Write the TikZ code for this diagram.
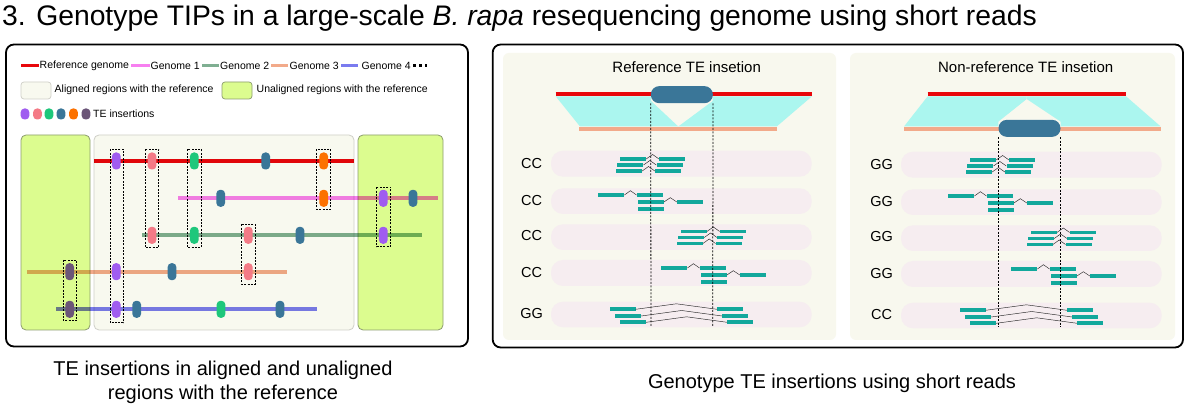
\documentclass[tikz,border=0pt]{standalone}
\usepackage{fontspec}
\setmainfont{Liberation Sans}
\usetikzlibrary{calc}
\definecolor{refred}{HTML}{E8070B}
\definecolor{gonepink}{HTML}{F77FF0}
\definecolor{gtwogreen}{HTML}{7FAF92}
\definecolor{gthreeorange}{HTML}{F2AA8A}
\definecolor{gfourblue}{HTML}{7A7BEF}
\definecolor{unal}{HTML}{DCFC8F}
\definecolor{unalb}{HTML}{8C9C6E}
\definecolor{alig}{HTML}{F8F9EF}
\definecolor{aligb}{HTML}{CFCFC8}
\definecolor{tepurple}{HTML}{A05CF0}
\definecolor{tepink}{HTML}{F47A86}
\definecolor{tegreen}{HTML}{1EC77B}
\definecolor{teblue}{HTML}{3A7698}
\definecolor{teorange}{HTML}{FC7100}
\definecolor{tedark}{HTML}{6B5578}
\definecolor{cyanfill}{HTML}{ABF6EF}
\definecolor{readc}{HTML}{12A89C}
\definecolor{bandc}{HTML}{F6EDF0}
\definecolor{innerc}{HTML}{F8F8EE}
\tikzset{
  panel/.style={draw=black, line width=1.8pt, rounded corners=8pt},
  gline/.style={line width=4.3pt, blend mode=multiply},
  legline/.style={line width=3.5pt},
  temark/.style={rectangle, rounded corners=3.8pt, minimum width=8.7pt, minimum height=17pt, inner sep=0pt},
  tedot/.style={rectangle, rounded corners=3.8pt, minimum width=8.7pt, minimum height=11pt, inner sep=0pt},
  dbox/.style={dash pattern=on 2pt off 1.3pt, line width=0.75pt},
  dv/.style={dash pattern=on 2pt off 1.5pt, line width=0.8pt},
  legtxt/.style={anchor=west, inner sep=0.5pt, font=\fontsize{10.5}{12}\selectfont},
  readbar/.style={rectangle, fill=readc, minimum width=26pt, minimum height=3.8pt, inner sep=0pt},
  conn/.style={draw=black!85, line width=0.45pt},
  rowlab/.style={font=\fontsize{14.5}{16}\selectfont, inner sep=0pt},
  bandbox/.style={fill=bandc, rounded corners=12pt},
  tebox/.style={rectangle, fill=teblue, rounded corners=8.3pt, minimum width=62pt, minimum height=17pt, inner sep=0pt},
  ptitle/.style={font=\fontsize{15}{17}\selectfont, inner sep=0pt},
  capt/.style={font=\fontsize{20}{24}\selectfont, align=center, inner sep=0pt},
}
\newcommand\readpanel[6]{%
  \fill[bandbox] (551,150.7) rectangle (811.7,176.7);
  \fill[bandbox] (551,188.3) rectangle (811.7,214);
  \fill[bandbox] (551,224.3) rectangle (811.7,250);
  \fill[bandbox] (551,260) rectangle (811.7,286);
  \fill[bandbox] (551,301.7) rectangle (811.7,327.3);
  \node[rowlab] (#1l1) at (531.7,164) {#2};
  \node[rowlab] (#1l2) at (531.7,200.5) {#3};
  \node[rowlab] (#1l3) at (531.7,236) {#4};
  \node[rowlab] (#1l4) at (531.7,272.5) {#5};
  \node[rowlab] (#1l5) at (531.7,313.5) {#6};
  % row 1
  \node[readbar] (#1pa1) at (633,159) {};
  \node[readbar] (#1pa2) at (630.3,165) {};
  \node[readbar] (#1pa3) at (629,171) {};
  \node[readbar] (#1pb1) at (672.2,159) {};
  \node[readbar] (#1pb2) at (669.5,165) {};
  \node[readbar] (#1pb3) at (668,171) {};
  \draw[conn] (#1pa1.east) -- ($(#1pa1.east)!.5!(#1pb1.west)+(0,-4.5)$) -- (#1pb1.west);
  \draw[conn] (#1pa2.east) -- ($(#1pa2.east)!.5!(#1pb2.west)+(0,-4.5)$) -- (#1pb2.west);
  \draw[conn] (#1pa3.east) -- ($(#1pa3.east)!.5!(#1pb3.west)+(0,-4.5)$) -- (#1pb3.west);
  % row 2
  \node[readbar] (#1qa) at (611.2,195) {};
  \node[readbar] (#1qb) at (649.7,195) {};
  \node[readbar] (#1qc) at (650.7,202) {};
  \node[readbar] (#1qd) at (690,202) {};
  \node[readbar] (#1qe) at (650.7,209) {};
  \draw[conn] (#1qa.east) -- ($(#1qa.east)!.5!(#1qb.west)+(0,-4.3)$) -- (#1qb.west);
  \draw[conn] (#1qc.east) -- ($(#1qc.east)!.5!(#1qd.west)+(0,-4.3)$) -- (#1qd.west);
  % row 3
  \node[readbar] (#1ra1) at (693.7,231.5) {};
  \node[readbar] (#1ra2) at (691,237.5) {};
  \node[readbar] (#1ra3) at (689.7,243.5) {};
  \node[readbar] (#1rb1) at (732.9,231.5) {};
  \node[readbar] (#1rb2) at (730.2,237.5) {};
  \node[readbar] (#1rb3) at (728.7,243.5) {};
  \draw[conn] (#1ra1.east) -- ($(#1ra1.east)!.5!(#1rb1.west)+(0,-4.5)$) -- (#1rb1.west);
  \draw[conn] (#1ra2.east) -- ($(#1ra2.east)!.5!(#1rb2.west)+(0,-4.5)$) -- (#1rb2.west);
  \draw[conn] (#1ra3.east) -- ($(#1ra3.east)!.5!(#1rb3.west)+(0,-4.5)$) -- (#1rb3.west);
  % row 4
  \node[readbar] (#1sa) at (674.2,268) {};
  \node[readbar] (#1sb) at (712.7,268) {};
  \node[readbar] (#1sc) at (713.7,275) {};
  \node[readbar] (#1sd) at (753,275) {};
  \node[readbar] (#1se) at (713.7,282) {};
  \draw[conn] (#1sa.east) -- ($(#1sa.east)!.5!(#1sb.west)+(0,-4.3)$) -- (#1sb.west);
  \draw[conn] (#1sc.east) -- ($(#1sc.east)!.5!(#1sd.west)+(0,-4.3)$) -- (#1sd.west);
  % row 5
  \node[readbar] (#1ta1) at (622.5,309.3) {};
  \node[readbar] (#1ta2) at (628,316) {};
  \node[readbar] (#1ta3) at (633,322.3) {};
  \node[readbar] (#1tb1) at (730.3,309.3) {};
  \node[readbar] (#1tb2) at (735.3,316) {};
  \node[readbar] (#1tb3) at (740.3,322.3) {};
  \draw[conn] (#1ta1.east) -- ($(#1ta1.east)!.5!(#1tb1.west)+(0,-5.5)$) -- (#1tb1.west);
  \draw[conn] (#1ta2.east) -- ($(#1ta2.east)!.5!(#1tb2.west)+(0,-5.5)$) -- (#1tb2.west);
  \draw[conn] (#1ta3.east) -- ($(#1ta3.east)!.5!(#1tb3.west)+(0,-5.5)$) -- (#1tb3.west);
}
\begin{document}
\begin{tikzpicture}[x=1pt,y=-1pt]
\useasboundingbox (0,0) rectangle (1187,411);
\fill[white] (0,0) rectangle (1187,411);

% title
\node[anchor=west, inner sep=0pt, font=\fontsize{28.3}{32}\selectfont] (title) at (2,18)
  {3. Genotype TIPs in a large-scale \textit{B. rapa} resequencing genome using short reads};

% ================= LEFT PANEL =================
\draw[panel] (6,44.5) rectangle (468,346.5);

% legend row 1
\draw[legline, refred] (21,65.7) -- (39,65.7);
\node[legtxt] (lg1) at (39,65.7) {Reference genome};
\draw[legline, gonepink] (131,65.7) -- (150,65.7);
\node[legtxt] (lg2) at (150,65.7) {Genome 1};
\draw[legline, gtwogreen] (202,65.7) -- (219,65.7);
\node[legtxt] (lg3) at (219.5,65.7) {Genome 2};
\draw[legline, gthreeorange] (271,65.7) -- (288,65.7);
\node[legtxt] (lg4) at (289,65.7) {Genome 3};
\draw[legline, gfourblue] (341,65.7) -- (358,65.7);
\node[legtxt] (lg5) at (361,65.7) {Genome 4};
\foreach \xx in {414.5,420.2,425.9} \fill[black] (\xx-1.4,64.3) rectangle (\xx+1.4,67.1);

% legend row 2
\filldraw[fill=alig, draw=aligb, rounded corners=3pt, line width=0.7pt] (21,82) rectangle (51,99);
\node[legtxt] (lg6) at (54,90) {Aligned regions with the reference};
\filldraw[fill=unal, draw=unalb, rounded corners=3pt, line width=0.7pt] (222,82) rectangle (252,99);
\node[legtxt] (lg7) at (256,90) {Unaligned regions with the reference};

% legend row 3
\node[tedot, fill=tepurple] (d1) at (25,114) {};
\node[tedot, fill=tepink] (d2) at (37.5,114) {};
\node[tedot, fill=tegreen] (d3) at (49,114) {};
\node[tedot, fill=teblue] (d4) at (61,114) {};
\node[tedot, fill=teorange] (d5) at (73.5,114) {};
\node[tedot, fill=tedark] (d6) at (86,114) {};
\node[legtxt] (lg8) at (92.5,114) {TE insertions};

% region boxes
\filldraw[fill=unal, draw=unalb, rounded corners=5pt, line width=0.8pt] (21,135) rectangle (90,330);
\filldraw[fill=alig, draw=aligb, rounded corners=5pt, line width=0.8pt] (94,135) rectangle (354,330);
\filldraw[fill=unal, draw=unalb, rounded corners=5pt, line width=0.8pt] (358,135) rectangle (443,330);

% genome lines
\draw[gline, refred] (94,161) -- (354,161);
\draw[gline, gonepink] (178,198.3) -- (438,198.3);
\draw[gline, gtwogreen] (142,235.3) -- (422,235.3);
\draw[gline, gthreeorange] (27,271.7) -- (287,271.7);
\draw[gline, gfourblue] (56,309.3) -- (317,309.3);

% TE marks
\node[temark, fill=tepurple] (r1a) at (116.3,161) {};
\node[temark, fill=tepink] (r1b) at (152,161) {};
\node[temark, fill=tegreen] (r1c) at (194.3,161) {};
\node[temark, fill=teblue] (r1d) at (265.7,161) {};
\node[temark, fill=teorange] (r1e) at (323.7,161) {};
\node[temark, fill=teblue] (r2a) at (220.7,198.3) {};
\node[temark, fill=teorange] (r2b) at (323.7,198.3) {};
\node[temark, fill=tepurple] (r2c) at (383.3,198.3) {};
\node[temark, fill=teblue] (r2d) at (413,198.3) {};
\node[temark, fill=tepink] (r3a) at (152,235.3) {};
\node[temark, fill=tegreen] (r3b) at (194.3,235.3) {};
\node[temark, fill=tepink] (r3c) at (248.3,235.3) {};
\node[temark, fill=teblue] (r3d) at (300,235.3) {};
\node[temark, fill=tepurple] (r3e) at (383.3,235.3) {};
\node[temark, fill=tedark] (r4a) at (69.7,271.7) {};
\node[temark, fill=tepurple] (r4b) at (116.3,271.7) {};
\node[temark, fill=teblue] (r4c) at (172,271.7) {};
\node[temark, fill=tepink] (r4d) at (248.3,271.7) {};
\node[temark, fill=tedark] (r5a) at (69.7,309.3) {};
\node[temark, fill=tepurple] (r5b) at (116.3,309.3) {};
\node[temark, fill=teblue] (r5c) at (136.7,309.3) {};
\node[temark, fill=tegreen] (r5d) at (221,309.3) {};
\node[temark, fill=teblue] (r5e) at (280,309.3) {};

% dashed groups
\draw[dbox] (110,149.3) rectangle (123.3,322.7);
\draw[dbox] (145,149.3) rectangle (158.7,247.3);
\draw[dbox] (187.3,149.3) rectangle (201.3,247.3);
\draw[dbox] (316.7,149.3) rectangle (330.7,209.3);
\draw[dbox] (376.7,187.3) rectangle (390.7,246.7);
\draw[dbox] (241.3,224.3) rectangle (255.3,284);
\draw[dbox] (63.3,260) rectangle (76.7,320.7);

% captions
\node[capt] (cap1) at (223,382) {TE insertions in aligned and unaligned\\regions with the reference};
\node[capt] (cap2) at (832,383) {Genotype TE insertions using short reads};

% ================= RIGHT PANEL =================
\draw[panel] (492.7,44.5) rectangle (1183,347.5);
\fill[innerc, rounded corners=6pt] (503,53) rectangle (836,340);
\fill[innerc, rounded corners=6pt] (850,53) rectangle (1175,340);

% reference TE insertion
\node[ptitle] (pt1) at (686.7,66.7) {Reference TE insetion};
\fill[cyanfill] (555.7,96.3) -- (651,96.3) -- (651,101) -- (678.3,126.5) -- (580,126.5) -- cycle;
\fill[cyanfill] (712.7,96.3) -- (812,96.3) -- (776.7,126.5) -- (678.3,126.5) -- (712.7,101) -- cycle;
\draw[line width=4.3pt, refred] (555.7,94.3) -- (812,94.3);
\draw[line width=4pt, gthreeorange] (579.3,128.7) -- (777.3,128.7);
\node[tebox] (teA) at (681.85,94.65) {};

% non-reference TE insertion
\node[ptitle] (pt2) at (1025.7,66.7) {Non-reference TE insetion};
\fill[cyanfill] (927.7,96.3) -- (1026.7,96.3) -- (1026.7,99) -- (998.3,121.7) -- (998.3,126.5) -- (904,126.5) -- cycle;
\fill[cyanfill] (1026.7,96.3) -- (1126,96.3) -- (1160.7,126.5) -- (1060.7,126.5) -- (1060.7,121.7) -- (1026.7,99) -- cycle;
\draw[line width=4.3pt, refred] (927.7,94.3) -- (1126,94.3);
\draw[line width=4pt, gthreeorange] (904,128.7) -- (1160.7,128.7);
\node[tebox] (teB) at (1029.5,128.35) {};

% reads
\readpanel{L}{CC}{CC}{CC}{CC}{GG}
\begin{scope}[shift={(350,1)}]
\readpanel{R}{GG}{GG}{GG}{GG}{CC}
\end{scope}

% breakpoint lines
\coordinate (eA1) at (651,326.7);
\coordinate (eA2) at (712.7,326.7);
\coordinate (eB1) at (998.3,326.7);
\coordinate (eB2) at (1060.7,326.7);
\draw[dv] (teA.south west) -- (eA1);
\draw[dv] (teA.south east) -- (eA2);
\draw[dv] (teB.south west) -- (eB1);
\draw[dv] (teB.south east) -- (eB2);
\end{tikzpicture}
\end{document}
